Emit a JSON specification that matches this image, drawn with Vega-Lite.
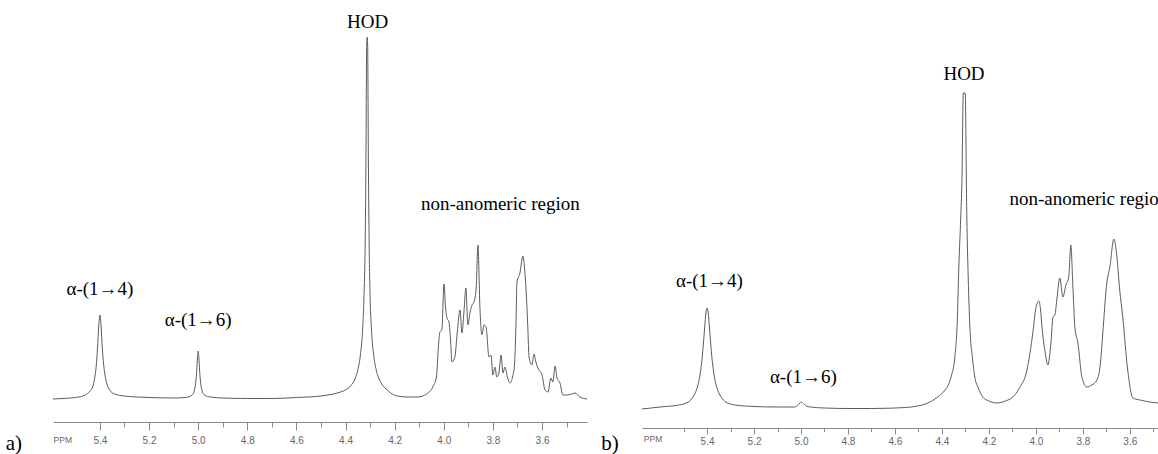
{
  "$schema": "https://vega.github.io/schema/vega-lite/v6.json",
  "width": 1158,
  "height": 454,
  "autosize": {"type": "none"},
  "padding": 0,
  "background": "white",
  "config": {"view": {"stroke": null}, "axis": {"grid": false}},
  "datasets": {
    "specA": [
      {"ppm":5.591,"v":23},{"ppm":5.55,"v":23.5},{"ppm":5.50,"v":24.5},{"ppm":5.46,"v":27},{"ppm":5.44,"v":31},{"ppm":5.43,"v":35},{"ppm":5.42,"v":46},{"ppm":5.415,"v":56},{"ppm":5.41,"v":73},{"ppm":5.405,"v":95},{"ppm":5.40,"v":107},{"ppm":5.395,"v":95},{"ppm":5.39,"v":73},{"ppm":5.385,"v":58},{"ppm":5.38,"v":48},{"ppm":5.37,"v":37},{"ppm":5.36,"v":32},{"ppm":5.34,"v":28},{"ppm":5.30,"v":26},{"ppm":5.25,"v":25},{"ppm":5.20,"v":24.5},
      {"ppm":5.10,"v":24},{"ppm":5.05,"v":24.5},{"ppm":5.025,"v":27},{"ppm":5.015,"v":32},{"ppm":5.01,"v":39.5},{"ppm":5.006,"v":51},{"ppm":5.003,"v":64},{"ppm":5.0,"v":71},{"ppm":4.997,"v":64},{"ppm":4.994,"v":51},{"ppm":4.99,"v":39.5},{"ppm":4.985,"v":32},{"ppm":4.975,"v":27},{"ppm":4.95,"v":25},{"ppm":4.90,"v":24},{"ppm":4.80,"v":23.5},{"ppm":4.70,"v":23.5},{"ppm":4.60,"v":24.5},{"ppm":4.50,"v":26},{"ppm":4.45,"v":28},{"ppm":4.42,"v":30},{"ppm":4.40,"v":32},{"ppm":4.38,"v":36},{"ppm":4.36,"v":44},{"ppm":4.35,"v":52},{"ppm":4.34,"v":66},{"ppm":4.33,"v":95},{"ppm":4.325,"v":125},{"ppm":4.32,"v":180},{"ppm":4.317,"v":260},{"ppm":4.314,"v":377},{"ppm":4.312,"v":385},{"ppm":4.310,"v":377},{"ppm":4.307,"v":260},{"ppm":4.304,"v":180},{"ppm":4.30,"v":125},{"ppm":4.295,"v":95},{"ppm":4.285,"v":66},{"ppm":4.275,"v":52},{"ppm":4.265,"v":44},{"ppm":4.25,"v":37},{"ppm":4.23,"v":32},{"ppm":4.21,"v":28},{"ppm":4.19,"v":26},{"ppm":4.15,"v":25},{"ppm":4.105,"v":25},
      {"ppm":4.07,"v":28},{"ppm":4.045,"v":35},{"ppm":4.03,"v":45},{"ppm":4.022,"v":75},{"ppm":4.016,"v":90},{"ppm":4.008,"v":92},{"ppm":3.999,"v":138},{"ppm":3.993,"v":115},{"ppm":3.987,"v":104},{"ppm":3.979,"v":100},{"ppm":3.972,"v":80},{"ppm":3.967,"v":60},{"ppm":3.955,"v":65},{"ppm":3.945,"v":90},{"ppm":3.934,"v":112},{"ppm":3.926,"v":89},{"ppm":3.918,"v":110},{"ppm":3.910,"v":134},{"ppm":3.902,"v":97},{"ppm":3.893,"v":110},{"ppm":3.885,"v":117},{"ppm":3.877,"v":120},{"ppm":3.868,"v":135},{"ppm":3.861,"v":177},{"ppm":3.853,"v":115},{"ppm":3.845,"v":87},{"ppm":3.836,"v":97},{"ppm":3.828,"v":95},{"ppm":3.816,"v":65},{"ppm":3.808,"v":67},{"ppm":3.800,"v":47},{"ppm":3.792,"v":55},{"ppm":3.784,"v":45},{"ppm":3.775,"v":50},{"ppm":3.767,"v":67},{"ppm":3.759,"v":49},{"ppm":3.751,"v":55},{"ppm":3.740,"v":44},{"ppm":3.731,"v":39},{"ppm":3.720,"v":45},{"ppm":3.712,"v":58},{"ppm":3.707,"v":90},{"ppm":3.702,"v":140},{"ppm":3.690,"v":149},{"ppm":3.678,"v":166},{"ppm":3.670,"v":150},{"ppm":3.665,"v":132},{"ppm":3.658,"v":95},{"ppm":3.653,"v":65},{"ppm":3.641,"v":57},{"ppm":3.633,"v":68},{"ppm":3.625,"v":60},{"ppm":3.617,"v":54},{"ppm":3.600,"v":47},{"ppm":3.588,"v":32},{"ppm":3.576,"v":30},{"ppm":3.564,"v":44},{"ppm":3.556,"v":40},{"ppm":3.547,"v":56},{"ppm":3.539,"v":44},{"ppm":3.527,"v":39},{"ppm":3.515,"v":27},{"ppm":3.50,"v":27},{"ppm":3.478,"v":28},{"ppm":3.466,"v":29},{"ppm":3.446,"v":25},{"ppm":3.417,"v":23}
    ],
    "specB": [
      {"ppm":5.677,"v":19},{"ppm":5.60,"v":21},{"ppm":5.52,"v":23},{"ppm":5.48,"v":26},{"ppm":5.46,"v":31},{"ppm":5.44,"v":42},{"ppm":5.43,"v":53},{"ppm":5.42,"v":72},{"ppm":5.415,"v":86},{"ppm":5.41,"v":101},{"ppm":5.405,"v":115},{"ppm":5.40,"v":120},{"ppm":5.395,"v":115},{"ppm":5.39,"v":101},{"ppm":5.385,"v":86},{"ppm":5.38,"v":72},{"ppm":5.37,"v":53},{"ppm":5.36,"v":42},{"ppm":5.34,"v":31},{"ppm":5.32,"v":26},{"ppm":5.28,"v":23},{"ppm":5.20,"v":21.5},{"ppm":5.10,"v":21},
      {"ppm":5.03,"v":21},{"ppm":5.015,"v":22.5},{"ppm":5.005,"v":25},{"ppm":4.998,"v":26},{"ppm":4.99,"v":24.5},{"ppm":4.98,"v":22.5},{"ppm":4.96,"v":21},{"ppm":4.90,"v":20},{"ppm":4.80,"v":19.5},{"ppm":4.70,"v":19.5},{"ppm":4.62,"v":19.8},{"ppm":4.57,"v":20.3},{"ppm":4.53,"v":21},{"ppm":4.50,"v":22.2},{"ppm":4.47,"v":24},{"ppm":4.44,"v":27.5},{"ppm":4.41,"v":32.5},{"ppm":4.39,"v":37},{"ppm":4.375,"v":42},{"ppm":4.36,"v":52},{"ppm":4.345,"v":71},{"ppm":4.335,"v":105},{"ppm":4.328,"v":161},{"ppm":4.32,"v":210},{"ppm":4.315,"v":245},{"ppm":4.309,"v":335},{"ppm":4.301,"v":335},{"ppm":4.294,"v":211},{"ppm":4.288,"v":150},{"ppm":4.281,"v":101},{"ppm":4.27,"v":70},{"ppm":4.26,"v":51},{"ppm":4.245,"v":40},{"ppm":4.226,"v":31},{"ppm":4.20,"v":27},{"ppm":4.166,"v":25},{"ppm":4.13,"v":27},{"ppm":4.098,"v":31},{"ppm":4.07,"v":40},{"ppm":4.038,"v":58},{"ppm":4.025,"v":75},{"ppm":4.013,"v":95},{"ppm":4.0,"v":120},{"ppm":3.987,"v":127},{"ppm":3.98,"v":118},{"ppm":3.974,"v":101},{"ppm":3.96,"v":75},{"ppm":3.949,"v":63},{"ppm":3.936,"v":85},{"ppm":3.927,"v":111},{"ppm":3.919,"v":113},{"ppm":3.91,"v":130},{"ppm":3.898,"v":150},{"ppm":3.885,"v":131},{"ppm":3.872,"v":143},{"ppm":3.86,"v":151},{"ppm":3.851,"v":183},{"ppm":3.843,"v":145},{"ppm":3.834,"v":101},{"ppm":3.821,"v":85},{"ppm":3.804,"v":51},{"ppm":3.783,"v":41},{"ppm":3.762,"v":43},{"ppm":3.740,"v":48},{"ppm":3.725,"v":65},{"ppm":3.715,"v":95},{"ppm":3.698,"v":145},{"ppm":3.685,"v":161},{"ppm":3.668,"v":189},{"ppm":3.655,"v":171},{"ppm":3.643,"v":138},{"ppm":3.630,"v":111},{"ppm":3.609,"v":58},{"ppm":3.587,"v":30},{"ppm":3.557,"v":28},{"ppm":3.515,"v":26},{"ppm":3.48,"v":25}
    ],
    "labA": [
      {"ppm":4.31,"v":394,"label":"HOD"},
      {"ppm":5.40,"v":127,"label":"α-(1→4)"},
      {"ppm":5.00,"v":96,"label":"α-(1→6)"},
      {"ppm":3.770,"v":212,"label":"non-anomeric region"}
    ],
    "labB": [
      {"ppm":4.306,"v":348,"label":"HOD"},
      {"ppm":5.39,"v":141,"label":"α-(1→4)"},
      {"ppm":4.99,"v":45,"label":"α-(1→6)"},
      {"ppm":3.774,"v":223,"label":"non-anomeric region"}
    ],
    "panA": [{"ppm":5.75,"v":-28,"label":"a)"}],
    "panB": [{"ppm":5.813,"v":-22,"label":"b)"}],
    "ppmA": [{"ppm":5.551,"v":-18,"label":"PPM"}],
    "ppmB": [{"ppm":5.630,"v":-11,"label":"PPM"}]
  },
  "layer": [
    {
      "encoding": {
        "x": {"field": "ppm", "type": "quantitative",
          "scale": {"domain": [3.417, 5.591], "range": [53, 587], "reverse": true, "nice": false, "zero": false},
          "axis": {"title": null, "orient": "bottom", "offset": -32,
            "values": [5.4,5.3,5.2,5.1,5.0,4.9,4.8,4.7,4.6,4.5,4.4,4.3,4.2,4.1,4.0,3.9,3.8,3.7,3.6,3.5],
            "labelExpr": "round(datum.value*10)%2==0 ? format(datum.value,'.1f') : ''",
            "tickSize": {"condition": {"test": "round(datum.value*10)%2==0", "value": 8}, "value": 5},
            "domainColor": "#8a8a8a", "tickColor": "#8a8a8a", "labelColor": "#666666",
            "labelFont": "Liberation Sans", "labelFontSize": 10, "labelPadding": 5,
            "labelFlush": false, "labelOverlap": false}},
        "y": {"field": "v", "type": "quantitative", "scale": {"domain": [0, 377], "range": [422, 45], "nice": false, "zero": false}, "axis": null}
      },
      "layer": [
        {
          "data": {"name": "specA"},
          "mark": {"type": "line", "color": "#5c5c5c", "strokeWidth": 1, "clip": true, "interpolate": "monotone"}
        },
        {
          "data": {"name": "labA"},
          "mark": {"type": "text", "font": "Liberation Serif", "fontSize": 19, "baseline": "alphabetic", "align": "center", "color": "#000000"},
          "encoding": {"text": {"field": "label"}}
        },
        {
          "data": {"name": "panA"},
          "mark": {"type": "text", "font": "Liberation Serif", "fontSize": 21, "baseline": "alphabetic", "align": "center", "color": "#000000"},
          "encoding": {"text": {"field": "label"}}
        },
        {
          "data": {"name": "ppmA"},
          "mark": {"type": "text", "font": "Liberation Sans", "fontSize": 8.5, "baseline": "middle", "align": "center", "color": "#666666"},
          "encoding": {"text": {"field": "label"}}
        }
      ]
    },
    {
      "encoding": {
        "x": {"field": "ppm", "type": "quantitative",
          "scale": {"domain": [3.48, 5.677], "range": [642, 1158], "reverse": true, "nice": false, "zero": false},
          "axis": {"title": null, "orient": "bottom", "offset": -26,
            "values": [5.5,5.4,5.3,5.2,5.1,5.0,4.9,4.8,4.7,4.6,4.5,4.4,4.3,4.2,4.1,4.0,3.9,3.8,3.7,3.6,3.5],
            "labelExpr": "round(datum.value*10)%2==0 ? format(datum.value,'.1f') : ''",
            "tickSize": {"condition": {"test": "round(datum.value*10)%2==0", "value": 6}, "value": 3.5},
            "domainColor": "#8a8a8a", "tickColor": "#8a8a8a", "labelColor": "#666666",
            "labelFont": "Liberation Sans", "labelFontSize": 10, "labelPadding": 2,
            "labelFlush": false, "labelOverlap": false}},
        "y": {"field": "v", "type": "quantitative", "scale": {"domain": [0, 383], "range": [428, 45], "nice": false, "zero": false}, "axis": null}
      },
      "layer": [
        {
          "data": {"name": "specB"},
          "mark": {"type": "line", "color": "#5c5c5c", "strokeWidth": 1, "clip": true, "interpolate": "monotone"}
        },
        {
          "data": {"name": "labB"},
          "mark": {"type": "text", "font": "Liberation Serif", "fontSize": 19, "baseline": "alphabetic", "align": "center", "color": "#000000"},
          "encoding": {"text": {"field": "label"}}
        },
        {
          "data": {"name": "panB"},
          "mark": {"type": "text", "font": "Liberation Serif", "fontSize": 21, "baseline": "alphabetic", "align": "center", "color": "#000000"},
          "encoding": {"text": {"field": "label"}}
        },
        {
          "data": {"name": "ppmB"},
          "mark": {"type": "text", "font": "Liberation Sans", "fontSize": 8.5, "baseline": "middle", "align": "center", "color": "#666666"},
          "encoding": {"text": {"field": "label"}}
        }
      ]
    }
  ],
  "resolve": {"scale": {"x": "independent", "y": "independent"}, "axis": {"x": "independent"}}
}
